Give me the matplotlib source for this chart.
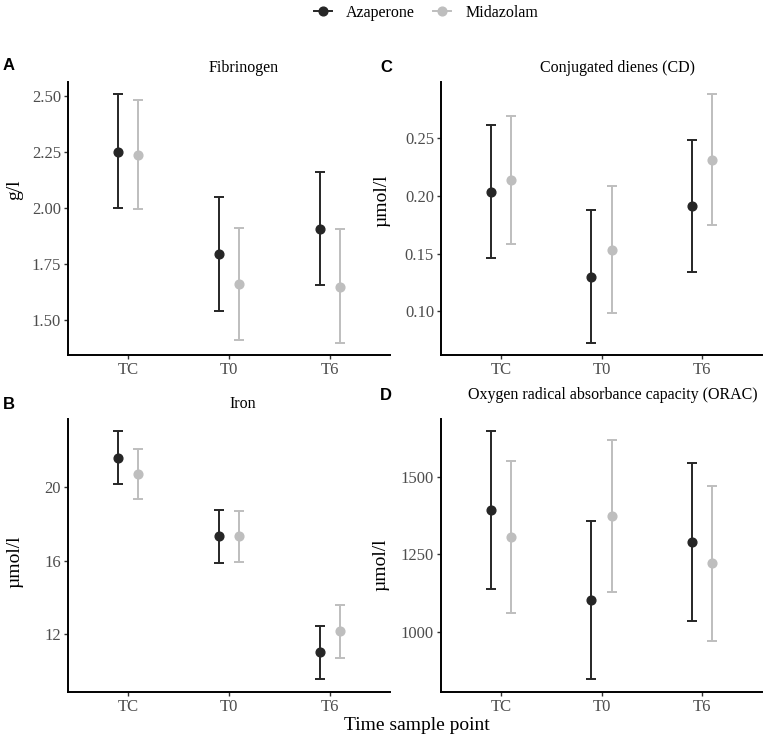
import matplotlib
matplotlib.use("Agg")
import matplotlib.pyplot as plt
from matplotlib.lines import Line2D
import numpy as np

# ── Data ─────────────────────────────────────────────────────────────────────
TIMES = ["TC", "T0", "T6"]
GROUPS = ["Azaperone", "Midazolam"]

# Fibrinogen (g/l)
fib_aza_mean = [2.25, 1.795, 1.908]
fib_aza_lo   = [2.00, 1.54, 1.655]
fib_aza_hi   = [2.508, 2.05, 2.162]
fib_mid_mean = [2.235, 1.661, 1.649]
fib_mid_lo   = [1.994, 1.409, 1.397]
fib_mid_hi   = [2.48, 1.911, 1.905]

# Iron (µmol/l)
iron_aza_mean = [21.59, 17.32, 11.02]
iron_aza_lo   = [20.15, 15.87, 9.57]
iron_aza_hi   = [23.06, 18.77, 12.47]
iron_mid_mean = [20.69, 17.32, 12.16]
iron_mid_lo   = [19.33, 15.95, 10.73]
iron_mid_hi   = [22.08, 18.71, 13.59]

# Conjugated dienes (µmol/l)
cd_aza_mean = [0.2037, 0.1298, 0.1913]
cd_aza_lo   = [0.1463, 0.0724, 0.1341]
cd_aza_hi   = [0.2612, 0.1876, 0.2488]
cd_mid_mean = [0.2141, 0.1532, 0.2312]
cd_mid_lo   = [0.1587, 0.0983, 0.1751]
cd_mid_hi   = [0.2693, 0.2084, 0.2880]

# ORAC (µmol/l)
orac_aza_mean = [1394, 1103, 1290]
orac_aza_lo   = [1137, 847, 1034]
orac_aza_hi   = [1650, 1359, 1546]
orac_mid_mean = [1306, 1375, 1222]
orac_mid_lo   = [1060, 1130, 970]
orac_mid_hi   = [1553, 1620, 1473]

COLORS = {"Azaperone": "#262626", "Midazolam": "#BEBEBE"}
DODGE = 0.1

W, H = 766, 740
SERIF = "Liberation Serif"
TICK_COL = "#4D4D4D"

fig = plt.figure(figsize=(W / 100, H / 100), dpi=100)
fig.patch.set_facecolor("white")


def px_axes(l, t, r, b):
    return fig.add_axes([l / W, 1 - b / H, (r - l) / W, (b - t) / H])


def panel(ax, series, ylim, yticks, ytick_fmt):
    x = np.arange(1, len(TIMES) + 1)
    for i, (grp, (m, lo, hi)) in enumerate(zip(GROUPS, series)):
        m, lo, hi = np.array(m), np.array(lo), np.array(hi)
        xs = x + (i * 2 - 1) * DODGE
        ax.errorbar(xs, m, yerr=[m - lo, hi - m], fmt="o",
                    color=COLORS[grp], ecolor=COLORS[grp],
                    elinewidth=1.4, capsize=3.3, capthick=1.4,
                    markersize=6.3, zorder=3 - i)
    ax.set_xlim(0.4, 3.6)
    ax.set_ylim(*ylim)
    ax.set_xticks(x)
    ax.set_xticklabels(TIMES)
    ax.set_yticks(yticks)
    ax.set_yticklabels([ytick_fmt.format(v) for v in yticks])
    for s in ["top", "right"]:
        ax.spines[s].set_visible(False)
    for s in ["left", "bottom"]:
        ax.spines[s].set_linewidth(1.4)
        ax.spines[s].set_color("black")
    ax.tick_params(length=3, width=1.0, color="#333333", pad=2,
                   labelsize=12, labelcolor=TICK_COL)
    for lab in ax.get_xticklabels() + ax.get_yticklabels():
        lab.set_fontfamily(SERIF)


axA = px_axes(68, 82, 390, 355)
panel(axA, [(fib_aza_mean, fib_aza_lo, fib_aza_hi),
            (fib_mid_mean, fib_mid_lo, fib_mid_hi)],
      (1.344, 2.5625), [1.50, 1.75, 2.00, 2.25, 2.50], "{:.2f}")

axC = px_axes(441, 82, 762, 355)
panel(axC, [(cd_aza_mean, cd_aza_lo, cd_aza_hi),
            (cd_mid_mean, cd_mid_lo, cd_mid_hi)],
      (0.0622, 0.2988), [0.10, 0.15, 0.20, 0.25], "{:.2f}")

axB = px_axes(68, 419, 390, 692)
panel(axB, [(iron_aza_mean, iron_aza_lo, iron_aza_hi),
            (iron_mid_mean, iron_mid_lo, iron_mid_hi)],
      (8.87, 23.69), [12, 16, 20], "{:d}")

axD = px_axes(441, 419, 762, 692)
panel(axD, [(orac_aza_mean, orac_aza_lo, orac_aza_hi),
            (orac_mid_mean, orac_mid_lo, orac_mid_hi)],
      (804.7, 1688.8), [1000, 1250, 1500], "{:d}")


def ftext(x, y, s, **kw):
    fig.text(x / W, 1 - y / H, s, ha="center", va="center", **kw)


# titles
ftext(244, 68, "Fibrinogen", fontsize=11.5, family=SERIF)
ftext(617, 68, "Conjugated dienes (CD)", fontsize=11.5, family=SERIF)
ftext(243, 404, "Iron", fontsize=11.5, family=SERIF)
ftext(613, 395, "Oxygen radical absorbance capacity (ORAC)", fontsize=11.5, family=SERIF)

# panel letters
for (x, y, s) in [(9, 66, "A"), (386, 67, "C"), (9, 405, "B"), (386, 396, "D")]:
    ftext(x, y, s, fontsize=12, fontweight="bold", family="Liberation Sans")

# y labels
ftext(15, 190, "g/l", fontsize=14, family=SERIF, rotation=90)
ftext(15, 562, "µmol/l", fontsize=14, family=SERIF, rotation=90)
ftext(382, 201, "µmol/l", fontsize=14, family=SERIF, rotation=90)
ftext(381, 565, "µmol/l", fontsize=14, family=SERIF, rotation=90)

# shared x label
ftext(417, 726, "Time sample point", fontsize=14, family=SERIF)

# legend
handles = [Line2D([0], [0], color=COLORS[g], marker="o", markersize=6.3,
                  linewidth=1.4) for g in GROUPS]
fig.legend(handles, GROUPS, loc="center", bbox_to_anchor=(426 / W, 1 - 13 / H),
           ncol=2, frameon=False, handlelength=1.1, handletextpad=0.9,
           columnspacing=1.15, borderpad=0, borderaxespad=0,
           prop={"family": SERIF, "size": 11.5})

fig.savefig("out.png", dpi=100, facecolor="white")
